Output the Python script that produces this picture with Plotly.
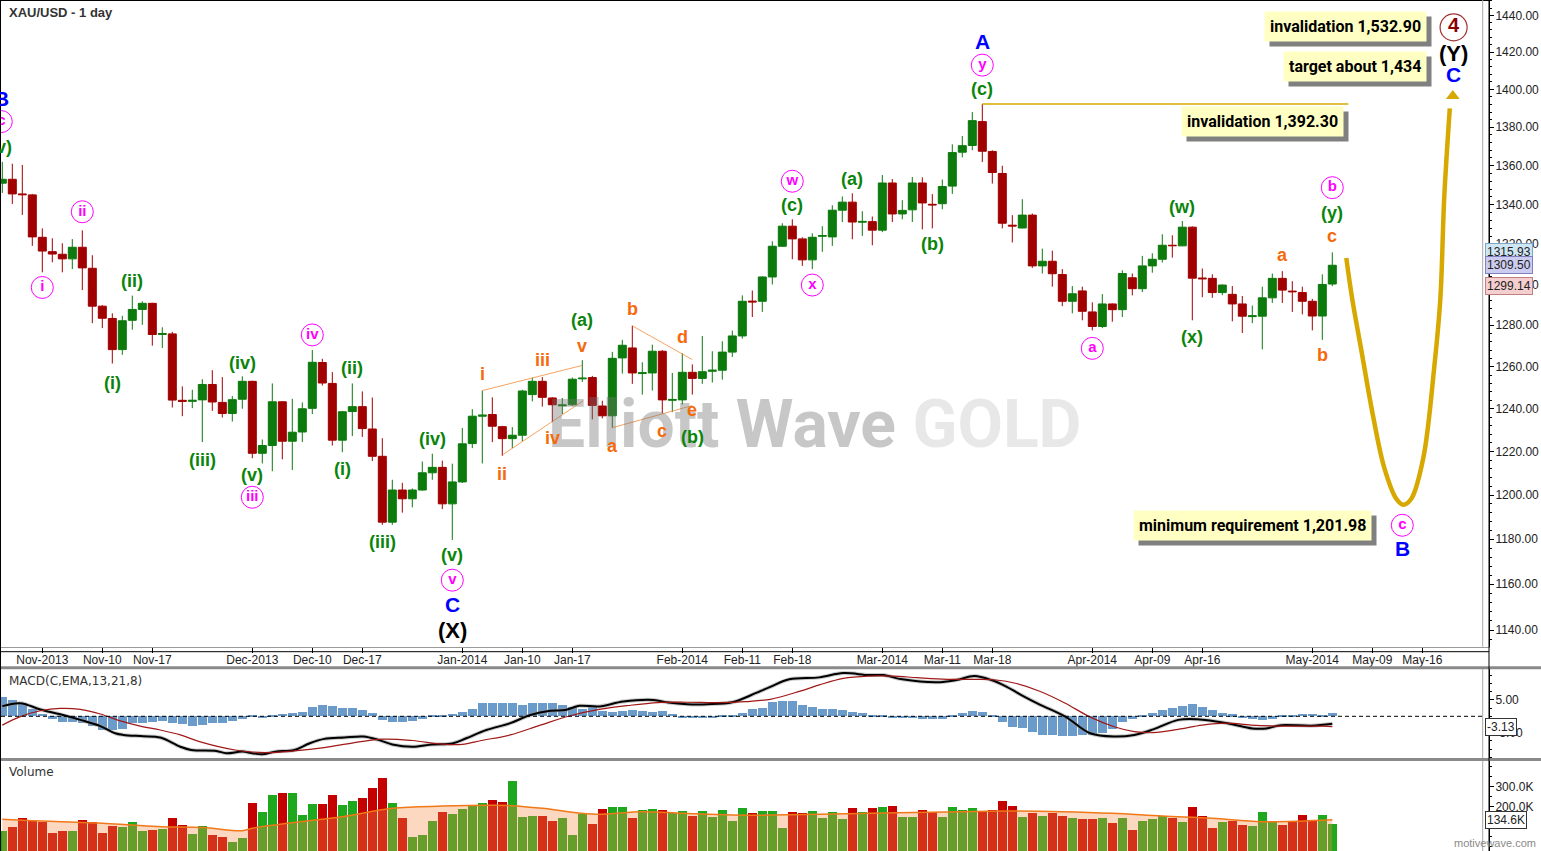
import math
import plotly.graph_objects as go

# ---------------- data ----------------
title_text = "XAU/USD - 1 day"

tick_bars = [4, 10, 15, 25, 31, 36, 46, 52, 57, 68, 74, 79, 88, 94, 99, 109, 115, 120, 131, 137, 142]
tick_labels = ["Nov-2013", "Nov-10", "Nov-17", "Dec-2013", "Dec-10", "Dec-17", "Jan-2014", "Jan-10",
               "Jan-17", "Feb-2014", "Feb-11", "Feb-18", "Mar-2014", "Mar-11", "Mar-18", "Apr-2014",
               "Apr-09", "Apr-16", "May-2014", "May-09", "May-16"]

opens = [1351, 1353, 1345.5, 1345, 1323.5, 1316.3, 1315, 1312.7, 1318.5, 1308,
         1289.3, 1283.3, 1268.2, 1282.4, 1287.7, 1290.7, 1275.5, 1275.8, 1244, 1243.5,
         1244.2, 1251.5, 1243, 1237.8, 1244.5, 1253, 1219.2, 1222.8, 1243.3, 1224.8,
         1229.1, 1240.2, 1262, 1252, 1225.3, 1238.7, 1241, 1230.5, 1217.8, 1187.7,
         1202.3, 1198.3, 1202.3, 1210.2, 1212.7, 1196, 1206, 1223.7, 1236.5, 1237.3,
         1231.6, 1226, 1227.6, 1246.7, 1253, 1245.1, 1241.4, 1241.9, 1254.2, 1254.8,
         1241.3, 1236.7, 1264.2, 1269, 1256.7, 1257, 1267.4, 1244, 1244.2, 1257.3,
         1254.4, 1257.8, 1258.3, 1267, 1274.8, 1291.8, 1291.7, 1303.7, 1319, 1329.1,
         1322.7, 1312.2, 1324, 1323.7, 1337.2, 1341.3, 1331.1, 1331.4, 1327.1, 1351.1,
         1335.3, 1337.4, 1351.1, 1340.2, 1340.5, 1349.5, 1367, 1370.5, 1383, 1367.4,
         1356, 1329.6, 1328.2, 1334.7, 1309.2, 1311.5, 1304.9, 1291.7, 1296.8, 1286.5,
         1279.4, 1290.4, 1287.6, 1303.3, 1297.9, 1309.2, 1312.5, 1319.5, 1319.2, 1328.6,
         1303.2, 1303, 1296, 1295.1, 1290.4, 1284.2, 1284.4, 1293.4, 1303, 1296.7,
         1296, 1291.7, 1284.5, 1300.2]
highs = [1362, 1361, 1360.4, 1345.5, 1328, 1323, 1320.5, 1322.6, 1327, 1314.5,
         1289.9, 1285.8, 1284.6, 1294.5, 1291.7, 1291, 1279, 1276.8, 1250.6, 1249,
         1254, 1258.3, 1255, 1246, 1255.4, 1253.3, 1225.6, 1252, 1243.6, 1244.7,
         1243, 1268, 1263.8, 1257.4, 1239, 1252, 1248.2, 1245.3, 1226.2, 1207,
         1205.6, 1203, 1215.4, 1219, 1215.8, 1214.4, 1231, 1239.8, 1248.6, 1245.4,
         1232, 1231.4, 1249, 1254.8, 1255, 1245.5, 1245.1, 1254.8, 1263.1, 1255.6,
         1243.8, 1267.1, 1272.9, 1279.8, 1262.1, 1270.6, 1268, 1257, 1266.4, 1261.1,
         1274.8, 1267.4, 1272.2, 1277.4, 1294.6, 1297, 1304, 1321.5, 1330.6, 1332.6,
         1323.5, 1325.5, 1329.1, 1339.7, 1344.2, 1345.8, 1336.7, 1334, 1355.2, 1353.1,
         1342.3, 1354.2, 1354, 1345.4, 1352.9, 1371.1, 1375.4, 1388, 1392.3, 1368,
         1360, 1334.7, 1342.8, 1335.5, 1317.8, 1316.8, 1307.6, 1299.2, 1298.9, 1291.2,
         1295.2, 1290.6, 1307, 1305.4, 1314.2, 1315.5, 1325, 1324.5, 1331.7, 1329,
         1307.9, 1305, 1300, 1299.2, 1294.3, 1289.6, 1298.9, 1305.4, 1306.6, 1301.6,
         1298.9, 1292.9, 1305, 1315.93]
lows = [1346, 1340.4, 1334.8, 1319.2, 1306, 1311, 1306, 1307.6, 1297.2, 1281,
        1278.6, 1261.5, 1265.7, 1277.8, 1280.2, 1270.1, 1269, 1240.6, 1236.5, 1240.3,
        1224.4, 1239, 1235.9, 1234, 1240, 1216.9, 1214.5, 1210.9, 1216.4, 1211.5,
        1224.4, 1237.5, 1251, 1222.8, 1219.7, 1227.2, 1226.8, 1215.6, 1186.5, 1186.5,
        1192, 1194.4, 1202, 1207, 1193.6, 1179.7, 1205.5, 1221.6, 1214.5, 1224.4,
        1218, 1221.6, 1224.8, 1243.5, 1241, 1233.7, 1237.5, 1241.3, 1252.7, 1235,
        1235.5, 1231, 1256.7, 1251.8, 1246.7, 1248.6, 1237.8, 1238.4, 1242, 1246.7,
        1251.8, 1252.4, 1253.8, 1264.7, 1273.5, 1284, 1286.5, 1300, 1318.7, 1312.5,
        1309.2, 1307.6, 1316.2, 1319.2, 1331.2, 1322.5, 1324.2, 1319.5, 1326.1, 1331.2,
        1332.6, 1331.2, 1327.5, 1328, 1337.7, 1345.5, 1364.3, 1368, 1361.9, 1350.8,
        1328, 1320.9, 1328, 1308.2, 1305.4, 1298.9, 1289.3, 1285.8, 1282.4, 1277.5,
        1278.6, 1281.7, 1284, 1294.6, 1296.2, 1305.8, 1310.9, 1313.3, 1319, 1282.4,
        1293.7, 1293.4, 1294.7, 1281.9, 1276.2, 1281, 1268.3, 1290.9, 1290.9, 1286.5,
        1285.3, 1277.5, 1272.9, 1299.14]
closes = [1353, 1345.5, 1345.1, 1323.7, 1316.6, 1315.1, 1312.7, 1318.5, 1308.2, 1289.3,
          1283.4, 1268.2, 1282.2, 1287.7, 1290.7, 1275.5, 1276, 1244.1, 1243.5, 1244,
          1251.5, 1243.2, 1237.8, 1244.3, 1253, 1219.2, 1222.8, 1243.3, 1224.8, 1229,
          1240, 1262.1, 1252.2, 1225.3, 1238.6, 1241, 1230.7, 1217.8, 1187.7, 1202.3,
          1198.3, 1202.3, 1210.2, 1212.7, 1196, 1206, 1223.6, 1236.5, 1237, 1231.8,
          1226, 1227.6, 1248.4, 1253, 1245.4, 1241.9, 1241.8, 1254, 1254.5, 1241.6,
          1236.7, 1264, 1270.3, 1257, 1257.1, 1267.4, 1244.2, 1244.4, 1257.3, 1254.4,
          1257.6, 1258.3, 1267, 1274.8, 1291.7, 1291.4, 1303.7, 1319, 1329.1, 1322.7,
          1312.2, 1323.5, 1324.4, 1337.2, 1341.3, 1331.2, 1331.5, 1327.1, 1351.1, 1335.3,
          1337.1, 1351.1, 1340.9, 1339.9, 1349.3, 1366.8, 1370.4, 1383.5, 1367.5, 1356.5,
          1330.6, 1329.2, 1334.7, 1309.2, 1311.5, 1305.3, 1291.7, 1295.4, 1286.8, 1279.4,
          1290.4, 1287.6, 1305.4, 1297.9, 1309.2, 1312.5, 1319.5, 1319.3, 1328.6, 1303.1,
          1302.8, 1296, 1299.7, 1290.4, 1284.4, 1284.6, 1293.4, 1303, 1297.2, 1296.4,
          1291.7, 1284.5, 1300, 1309.5]

volumes_k = [80, 100, 143.5, 130, 125, 70, 80, 80, 133.5, 125,
             70, 105, 98.5, 125, 80, 83.5, 88.5, 143.5, 107, 63.5,
             105.2, 60.2, 50.2, 25.2, 45.2, 220.2, 173.5, 260.2, 268.5, 268.5,
             160.2, 213.5, 213.5, 258.5, 208.5, 228.5, 243.5, 295.2, 345.2, 218.5,
             145.2, 50.2, 60.2, 130.2, 173.5, 165.2, 188.5, 210.2, 218.5, 231.8,
             221.8, 328.5, 148.5, 155.2, 155.2, 130.2, 143.5, 60.2, 161.8, 111.8,
             188.5, 200.2, 200.2, 141.8, 183.5, 188.5, 183.5, 166.8, 178.5, 153.5,
             178.5, 150.2, 181.8, 130.2, 193.5, 168.5, 178.5, 178.5, 95.2, 173.5,
             166.8, 178.5, 145.2, 173.5, 138.5, 193.5, 173.5, 193.5, 200.2, 203.5,
             148.5, 148.5, 183.5, 173.5, 148.5, 200.2, 183.5, 193.5, 173.5, 183.5,
             228.5, 205.2, 148.5, 168.5, 155.2, 168.5, 155.2, 143.5, 138.5, 138.5,
             143.5, 118.5, 143.5, 83.5, 130.2, 138.5, 151.8, 143.5, 123.5, 200.2,
             153.5, 93.5, 123.5, 126.8, 110.2, 103.5, 173.5, 121.8, 110.2, 121.8,
             158.5, 128.5, 158.5, 112.0]

vol_ma_bar = [0, 3, 6, 10, 13, 16, 20, 24, 25, 29, 34, 39, 44, 49, 51, 54, 59, 64, 68, 73,
              77, 87, 96, 101, 106, 111, 116, 121, 126, 133]
vol_ma_k = [137, 130, 125, 117, 108, 100, 96, 80, 92, 120, 150, 192, 203, 207, 205, 192, 163, 175, 167, 158,
            158, 167, 175, 178, 175, 167, 153, 142, 125, 134.6]

macd_hist = [6.0, 5.0, 4.0, 2.2, 0.7, -0.7, -1.6, -1.6, -2.0, -3.0,
             -4.2, -4.2, -3.9, -2.1, -2.0, -1.6, -1.3, -2.1, -2.5, -3.0,
             -2.8, -2.1, -1.9, -1.5, -0.8, 0.3, -0.3, 0.5, 0.7, 1.0,
             1.4, 2.7, 3.5, 3.0, 2.6, 2.6, 1.9, 1.1, -1.1, -1.6,
             -1.6, -1.3, -0.7, 0.3, 0.4, 0.7, 1.4, 2.2, 4.0, 4.2,
             4.2, 4.0, 3.6, 4.0, 4.2, 4.0, 3.5, 2.7, 2.2, 2.7,
             1.7, 1.3, 1.6, 1.9, 1.6, 1.3, 1.6, 0.7, -0.3, -0.3,
             -0.3, -0.3, 0.1, 0.4, 1.0, 2.3, 2.6, 4.5, 4.7, 4.7,
             3.5, 2.9, 2.3, 2.3, 2.0, 1.4, 1.0, 0.2, 0.4, -0.3,
             -0.5, -0.5, -0.7, -0.8, -0.8, 0.1, 0.9, 1.7, 1.4, 0.4,
             -1.6, -3.2, -3.7, -4.7, -5.6, -5.6, -5.9, -5.9, -5.6, -5.6,
             -5.0, -4.0, -1.6, -0.9, 0.3, 1.1, 1.8, 2.6, 3.2, 3.7,
             2.7, 2.0, 1.1, 0.6, -0.4, -0.9, -1.1, -0.9, 0.1, 0.4,
             0.7, 0.7, 0.4, 1.0]

macd_bar = [0, 1.8, 3.8, 5.8, 7.8, 9.8, 11.3, 12.1, 14.1, 15.8, 17.8, 18.9, 21.4, 22.4, 24, 25, 26, 27.3,
            29.2, 30.7, 32.2, 34.2, 36.1, 37.6, 39, 41, 43, 45, 46.4, 48.4, 50.8, 52.8, 54.8, 56.3, 57.7,
            59.7, 62.1, 65.1, 66.6, 68.5, 70.5, 73, 74.9, 76.8, 78.7, 81.7, 84.1, 86.6, 88.1, 90, 93.5,
            95.4, 97.2, 98.9, 100.4, 101.9, 103.8, 106.3, 108.8, 111.2, 113.2, 115.1, 117.6, 119.5, 122.5,
            125, 126.4, 127.9, 130.9, 133]
macd_line = [3.1, 4.0, 2.1, 0.6, -1.1, -3.0, -5.2, -5.7, -6.1, -6.5, -9.3, -10.3, -10.6, -11.3, -10.8,
             -11.3, -11.6, -10.8, -10.3, -8.3, -6.9, -6.5, -6.2, -7.2, -8.6, -9.3, -8.6, -8.3, -6.7, -4.2,
             -2.1, 0.4, 1.7, 1.9, 3.2, 3.0, 4.5, 5.0, 4.2, 3.7, 3.7, 4.3, 6.5, 9.0, 11.3, 11.9, 13.2, 12.6,
             12.6, 11.3, 10.4, 11.1, 12.3, 11.1, 9.1, 6.5, 3.5, -0.1, -5.2, -6.2, -5.7, -4.0, -1.1, -0.9,
             -2.1, -3.7, -3.7, -2.7, -2.9, -2.3]
signal_bar = [0, 1.8, 3.8, 5.8, 7.8, 9.8, 11.8, 13.8, 15.8, 17.8, 19.8, 23.3, 26.3, 29.2, 32.2, 35.1, 38.1,
              41.0, 44.0, 46.0, 47.9, 50.8, 53.8, 56.7, 59.7, 62.6, 65.6, 68.5, 71.5, 74.4, 76.8, 79.7,
              81.7, 84.1, 86.6, 89.1, 91.5, 94.5, 97.4, 99.4, 101.3, 103.8, 106.3, 108.7, 111.2, 113.2,
              115.1, 117.6, 120.0, 122.5, 124.9, 127.9, 132.1, 133]
signal_line = [-2.7, -0.1, 1.7, 2.4, 2.1, 0.7, -1.4, -3.0, -4.2, -5.7, -7.8, -10.3, -11.1, -10.6, -9.6,
               -8.1, -7.0, -7.4, -8.5, -8.6, -7.4, -5.7, -2.7, 0.1, 2.1, 3.3, 4.2, 4.3, 4.2, 4.5, 5.2, 7.6,
               9.6, 11.6, 12.3, 12.3, 11.8, 11.3, 11.3, 11.1, 10.1, 7.6, 4.0, -0.1, -3.2, -4.7, -5.0, -4.0,
               -2.7, -2.1, -2.7, -3.0, -3.0, -3.13]

# projected path (bar index, price) and the invalidation line
proj_bar = [134.4, 135.0, 135.9, 137.1, 138.2, 139.4, 140.1, 140.9, 142.1, 143.2, 143.8, 144.2, 144.75]
proj_price = [1313.1, 1292.6, 1268, 1236, 1212.5, 1198.3, 1195.6, 1198.3, 1217, 1260, 1292.6, 1344.3, 1390]
proj_tip = (145.05, 1396.5)
invalidation_price = 1392.30
invalidation_bars = [98, 134.6]

# orange triangle trend lines: (bar0, price0, bar1, price1)
triangle_lines = [(48, 1248.6, 58, 1260.6), (50, 1218.4, 58.1, 1243.8),
                  (63, 1279.7, 69, 1263.4), (61, 1231.1, 69, 1241.5)]

# wave labels (text, bar, price)
green_labels = [("(v)", -0.1, 1369.5), ("(i)", 11, 1252.0), ("(ii)", 13, 1301.5), ("(iii)", 20, 1216.0),
                ("(iv)", 24, 1261.7), ("(v)", 25, 1209.4), ("(i)", 34, 1212.0), ("(ii)", 35, 1259.3),
                ("(iii)", 38, 1178.7), ("(iv)", 43, 1225.7), ("(v)", 45, 1172.8), ("(a)", 58, 1282.4),
                ("(b)", 69, 1227.0), ("(c)", 79, 1340.0), ("(a)", 85, 1353.0), ("(b)", 93, 1320.0),
                ("(c)", 98, 1400.0), ("(w)", 118, 1339.0), ("(x)", 119, 1274.1), ("(y)", 133, 1336.0)]
orange_labels = [("i", 48, 1256.4), ("ii", 50, 1209.6), ("iii", 54, 1263.0), ("iv", 55, 1226.2),
                 ("v", 58, 1270.0), ("a", 61, 1222.8), ("b", 63, 1287.8), ("c", 66, 1229.5),
                 ("d", 68, 1274.5), ("e", 69, 1239.4), ("a", 128, 1314.5), ("b", 132, 1265.5),
                 ("c", 133, 1324.0)]
blue_labels = [("B", -0.08, 1395.0), ("C", 45, 1151.0), ("A", 98, 1425.6), ("C", 145.13, 1408.0),
               ("B", 140, 1175.8)]
black_labels = [("(X)", 45, 1140.0), ("(Y)", 145.13, 1419.0)]
circled_labels = [("c", -0.1, 1383.0), ("i", 4, 1298.5), ("ii", 8, 1336.4), ("iii", 25, 1199.0),
                  ("iv", 31, 1275.3), ("v", 45, 1161.8), ("w", 79, 1352.0), ("x", 81, 1299.7),
                  ("y", 98, 1413.0), ("a", 109, 1268.8), ("b", 133, 1348.7), ("c", 140, 1186.3)]
circled_primary = [("4", 145.13, 1433.4)]

notes = [("invalidation 1,532.90", 134.3, 1433.8), ("target about 1,434", 135.25, 1412.4),
         ("invalidation 1,392.30", 126.0, 1382.8), ("minimum requirement 1,201.98", 125.04, 1186.2)]

last_quotes = [1315.93, 1309.50, 1299.14]
macd_last = -3.13
vol_ma_last_k = 134.6

watermark_pos = (81.3, 1232.4)

# ---------------- styling / geometry ----------------
W, H = 1541, 851
PLOT_LEFT, PLOT_RIGHT = 1, 1489
BAR_PX = 10.0
FIRST_BAR_PX = 2.3

GREEN = "#0C7A0C"
RED = "#A00000"
LBL_GREEN = "#0A840A"
ORANGE = "#F56A0C"
MAGENTA = "#FF00FF"
BLUE = "#0000FF"
GOLD = "#D6A800"
ARIAL = "Arial, Liberation Sans, sans-serif"
NOTE_FONT = "Roboto, Liberation Sans, Arial, sans-serif"


def py(px):
    return 1 - px / H


def pxx(px):
    return (px - PLOT_LEFT) / (PLOT_RIGHT - PLOT_LEFT)


x_lo = (PLOT_LEFT - FIRST_BAR_PX) / BAR_PX
x_hi = x_lo + (PLOT_RIGHT - PLOT_LEFT) / BAR_PX
price_lo, price_hi = 1132.8, 1448.4
macd_lo, macd_hi = -12.75, 14.46
vol_lo, vol_hi = -21500, 428500

bars = list(range(len(opens)))
L10 = math.log10

fig = go.Figure()

# ---- price panel ----
fig.add_trace(go.Candlestick(
    x=bars, open=opens, high=highs, low=lows, close=closes,
    increasing=dict(line=dict(color=GREEN, width=1), fillcolor=GREEN),
    decreasing=dict(line=dict(color=RED, width=1), fillcolor=RED),
    whiskerwidth=0, xaxis="x", yaxis="y", showlegend=False, hoverinfo="skip"))

for (b0, p0, b1, p1) in triangle_lines:
    fig.add_trace(go.Scatter(x=[b0, b1], y=[p0, p1], mode="lines", xaxis="x", yaxis="y",
                             line=dict(color="rgba(245,140,60,0.8)", width=1),
                             showlegend=False, hoverinfo="skip"))

fig.add_trace(go.Scatter(x=invalidation_bars, y=[invalidation_price] * 2, mode="lines",
                         line=dict(color=GOLD, width=1.5), xaxis="x", yaxis="y",
                         showlegend=False, hoverinfo="skip"))

fig.add_trace(go.Scatter(x=proj_bar, y=proj_price, mode="lines",
                         line=dict(color=GOLD, width=4.5, shape="spline", smoothing=1.0),
                         xaxis="x", yaxis="y", showlegend=False, hoverinfo="skip"))
fig.add_trace(go.Scatter(x=[proj_tip[0]], y=[proj_tip[1]], mode="markers",
                         marker=dict(symbol="triangle-up", size=12, color=GOLD),
                         xaxis="x", yaxis="y", showlegend=False, hoverinfo="skip", cliponaxis=False))

fig.add_trace(go.Scatter(
    x=[c[1] for c in circled_labels], y=[c[2] for c in circled_labels],
    text=["<b>%s</b>" % c[0] for c in circled_labels], mode="markers+text",
    textposition="middle center", textfont=dict(family=ARIAL, size=15, color=MAGENTA),
    marker=dict(symbol="circle-open", size=22, color=MAGENTA, line=dict(width=1)),
    xaxis="x", yaxis="y", showlegend=False, hoverinfo="skip", cliponaxis=False))
fig.add_trace(go.Scatter(
    x=[c[1] for c in circled_primary], y=[c[2] for c in circled_primary],
    text=["<b>%s</b>" % c[0] for c in circled_primary], mode="markers+text",
    textposition="middle center", textfont=dict(family=ARIAL, size=20, color="#8B0000"),
    marker=dict(symbol="circle-open", size=27, color="#A03030", line=dict(width=1.2)),
    xaxis="x", yaxis="y", showlegend=False, hoverinfo="skip", cliponaxis=False))

# ---- MACD panel ----
fig.add_trace(go.Bar(x=bars, y=macd_hist, marker=dict(color="#6A9BCB", line=dict(width=0)),
                     width=0.9, xaxis="x2", yaxis="y2", showlegend=False, hoverinfo="skip"))
fig.add_trace(go.Scatter(x=macd_bar, y=macd_line, mode="lines",
                         line=dict(color="rgba(150,150,150,0.5)", width=4, shape="spline"),
                         xaxis="x2", yaxis="y2", showlegend=False, hoverinfo="skip"))
fig.add_trace(go.Scatter(x=macd_bar, y=macd_line, mode="lines",
                         line=dict(color="#000000", width=2, shape="spline"),
                         xaxis="x2", yaxis="y2", showlegend=False, hoverinfo="skip"))
fig.add_trace(go.Scatter(x=signal_bar, y=signal_line, mode="lines",
                         line=dict(color="#A01818", width=1.2, shape="spline"),
                         xaxis="x2", yaxis="y2", showlegend=False, hoverinfo="skip"))

# ---- volume panel ----
vol_colors = ["#1EA81E" if c >= o else "#C40000" for o, c in zip(opens, closes)]
fig.add_trace(go.Bar(x=bars, y=[v * 1000 - vol_lo for v in volumes_k], base=vol_lo,
                     marker=dict(color=vol_colors, line=dict(width=0)), width=0.88,
                     xaxis="x3", yaxis="y3", showlegend=False, hoverinfo="skip"))
fig.add_trace(go.Scatter(x=vol_ma_bar, y=[vol_lo] * len(vol_ma_bar), mode="lines",
                         line=dict(width=0, color="rgba(0,0,0,0)"),
                         xaxis="x3", yaxis="y3", showlegend=False, hoverinfo="skip"))
fig.add_trace(go.Scatter(x=vol_ma_bar, y=[v * 1000 for v in vol_ma_k], mode="lines", fill="tonexty",
                         fillcolor="rgba(245,140,70,0.34)",
                         line=dict(color="#F07818", width=1.5, shape="spline"),
                         xaxis="x3", yaxis="y3", showlegend=False, hoverinfo="skip"))

# ---------------- annotations ----------------
ann = []

# watermark first so that wave labels sit above it
ann.append(dict(x=watermark_pos[0], y=L10(watermark_pos[1]), xref="x", yref="y", showarrow=False,
                text='<b><span style="color:rgba(115,115,115,0.40)">Elliott Wave</span> '
                     '<span style="color:rgba(150,150,150,0.22)">GOLD</span></b>',
                font=dict(family=NOTE_FONT, size=66)))


def add_label(text, b, p, color, size):
    ann.append(dict(x=b, y=L10(p), xref="x", yref="y", text="<b>%s</b>" % text, showarrow=False,
                    font=dict(family=ARIAL, size=size, color=color)))


for t, b, p in green_labels:
    add_label(t, b, p, LBL_GREEN, 18)
for t, b, p in orange_labels:
    add_label(t, b, p, ORANGE, 18)
for t, b, p in blue_labels:
    add_label(t, b, p, BLUE, 21)
for t, b, p in black_labels:
    add_label(t, b, p, "#000000", 22)

for t, b, p in notes:
    ann.append(dict(x=b, y=L10(p), xref="x", yref="y", text="<b>%s</b>" % t, showarrow=False,
                    font=dict(family=NOTE_FONT, size=16, color="#808080"), bgcolor="#808080",
                    borderpad=5, xshift=5, yshift=-5))
    ann.append(dict(x=b, y=L10(p), xref="x", yref="y", text="<b>%s</b>" % t, showarrow=False,
                    font=dict(family=NOTE_FONT, size=16, color="#000000"), bgcolor="#FFFFC4",
                    borderpad=5))

quote_styles = [("#CFE7F5", "#7FA6C4"), ("#CCCCF0", "#8080C0"), ("#F5CFCF", "#C08080")]
for v, (bg, bd) in zip(last_quotes, quote_styles):
    ann.append(dict(x=1, xref="paper", y=L10(v), yref="y", text="%.2f" % v, showarrow=False,
                    xanchor="left", xshift=-4, font=dict(family=ARIAL, size=12, color="#222"),
                    bgcolor=bg, bordercolor=bd, borderwidth=1, borderpad=1))
ann.append(dict(x=1, xref="paper", y=macd_last, yref="y2", text="%.2f" % macd_last, showarrow=False,
                xanchor="left", xshift=-4, font=dict(family=ARIAL, size=12, color="#222"),
                bgcolor="#FFFFFF", bordercolor="#333", borderwidth=1, borderpad=1))
ann.append(dict(x=1, xref="paper", y=vol_ma_last_k * 1000, yref="y3", text="%.1fK" % vol_ma_last_k,
                showarrow=False, xanchor="left", xshift=-4, font=dict(family=ARIAL, size=12, color="#222"),
                bgcolor="#FFFFFF", bordercolor="#333", borderwidth=1, borderpad=1))

ann.append(dict(x=0, xref="paper", xanchor="left", xshift=6, y=py(12.5), yref="paper", yanchor="middle",
                text="<b>%s</b>" % title_text, showarrow=False,
                font=dict(family=ARIAL, size=13, color="#333")))
ann.append(dict(x=0, xref="paper", xanchor="left", xshift=6, y=py(680.5), yref="paper", yanchor="middle",
                text="MACD(C,EMA,13,21,8)", showarrow=False,
                font=dict(family="DejaVu Sans, Verdana, sans-serif", size=12, color="#333")))
ann.append(dict(x=0, xref="paper", xanchor="left", xshift=6, y=py(771.5), yref="paper", yanchor="middle",
                text="Volume", showarrow=False,
                font=dict(family="DejaVu Sans, Verdana, sans-serif", size=12, color="#333")))
ann.append(dict(x=pxx(1538), xref="paper", xanchor="right", y=py(843), yref="paper", yanchor="middle",
                text="motivewave.com", showarrow=False,
                font=dict(family=ARIAL, size=11, color="#8a8a8a")))

# ---------------- frame shapes ----------------
shapes = []
full_right = pxx(W)
for yy in (667.7, 759.5):
    shapes.append(dict(type="line", xref="paper", yref="paper", x0=pxx(0), x1=full_right,
                       y0=py(yy), y1=py(yy), line=dict(color="#8a8a8a", width=3)))
shapes.append(dict(type="line", xref="paper", yref="paper", x0=pxx(0), x1=1, y0=py(651.7), y1=py(651.7),
                   line=dict(color="#000", width=1)))
shapes.append(dict(type="line", xref="paper", yref="paper", x0=1, x1=1, y0=0, y1=1,
                   line=dict(color="#000", width=1)))
shapes.append(dict(type="line", xref="paper", yref="paper", x0=pxx(0.5), x1=pxx(0.5), y0=0, y1=1,
                   line=dict(color="#000", width=1)))
shapes.append(dict(type="line", xref="paper", yref="paper", x0=pxx(0), x1=1, y0=py(0.5), y1=py(0.5),
                   line=dict(color="#000", width=1)))
for (t0, t1) in ((0, 646.7), (669, 758), (761, 851)):
    shapes.append(dict(type="line", xref="paper", yref="paper", x0=pxx(1482.7), x1=pxx(1482.7),
                       y0=py(t1), y1=py(t0), line=dict(color="#a8a8a8", width=1)))
shapes.append(dict(type="line", xref="paper", yref="y2", x0=0, x1=pxx(1482.7), y0=0, y1=0,
                   line=dict(color="#000", width=1, dash="4px,3px")))

price_ticks = list(range(1140, 1441, 20))
price_minor = [v for v in range(1136, 1449, 4) if v % 20 != 0]

axis_font = dict(family=ARIAL, size=12, color="#222")
common_y = dict(side="right", showgrid=False, zeroline=False, showline=True, linecolor="#000",
                linewidth=1, ticks="outside", ticklen=4, tickcolor="#000", tickfont=axis_font,
                ticklabelstandoff=-1, automargin=False)

fig.update_layout(
    width=W, height=H, margin=dict(l=PLOT_LEFT, r=W - PLOT_RIGHT, t=0, b=0, pad=0),
    paper_bgcolor="white", plot_bgcolor="white", showlegend=False, hovermode=False,
    boxgap=0.2, boxgroupgap=0, bargap=0,
    xaxis=dict(domain=[0, 1], anchor="y", range=[x_lo, x_hi], tickmode="array", tickvals=tick_bars,
               ticktext=tick_labels, ticks="outside", ticklen=5, tickcolor="#000", showline=True,
               linecolor="#9a9a9a", linewidth=1, showgrid=False, zeroline=False, tickfont=axis_font,
               ticklabelstandoff=-3, automargin=False, rangeslider=dict(visible=False)),
    yaxis=dict(domain=[py(646.7), 1], anchor="x", type="log", range=[L10(price_lo), L10(price_hi)],
               tickmode="array", tickvals=price_ticks, ticktext=["%.2f" % v for v in price_ticks],
               minor=dict(tickmode="array", tickvals=price_minor, ticks="outside", ticklen=2,
                          tickcolor="#000"),
               **common_y),
    xaxis2=dict(domain=[0, 1], anchor="y2", matches="x", range=[x_lo, x_hi], showticklabels=False,
                ticks="", showgrid=False, zeroline=False, showline=False),
    yaxis2=dict(domain=[py(758), py(669)], anchor="x2", range=[macd_lo, macd_hi], tickmode="array",
                tickvals=[-5, 5], ticktext=["-5.00", "5.00"],
                minor=dict(tickmode="array", tickvals=[-12.5, -10, -7.5, -2.5, 0, 2.5, 7.5, 10, 12.5],
                           ticks="outside", ticklen=2, tickcolor="#000"),
                **common_y),
    xaxis3=dict(domain=[0, 1], anchor="y3", matches="x", range=[x_lo, x_hi], showticklabels=False,
                ticks="", showgrid=False, zeroline=False, showline=False),
    yaxis3=dict(domain=[0, py(761)], anchor="x3", range=[vol_lo, vol_hi], tickmode="array",
                tickvals=[200000, 300000], ticktext=["200.0K", "300.0K"],
                minor=dict(tickmode="array", tickvals=[0, 50000, 100000, 150000, 250000, 350000, 400000],
                           ticks="outside", ticklen=2, tickcolor="#000"),
                **common_y),
    annotations=ann, shapes=shapes,
)

fig.write_html("out.html", config={"displayModeBar": False},
               post_script="document.body.style.margin='0';document.body.style.overflow='hidden';")
